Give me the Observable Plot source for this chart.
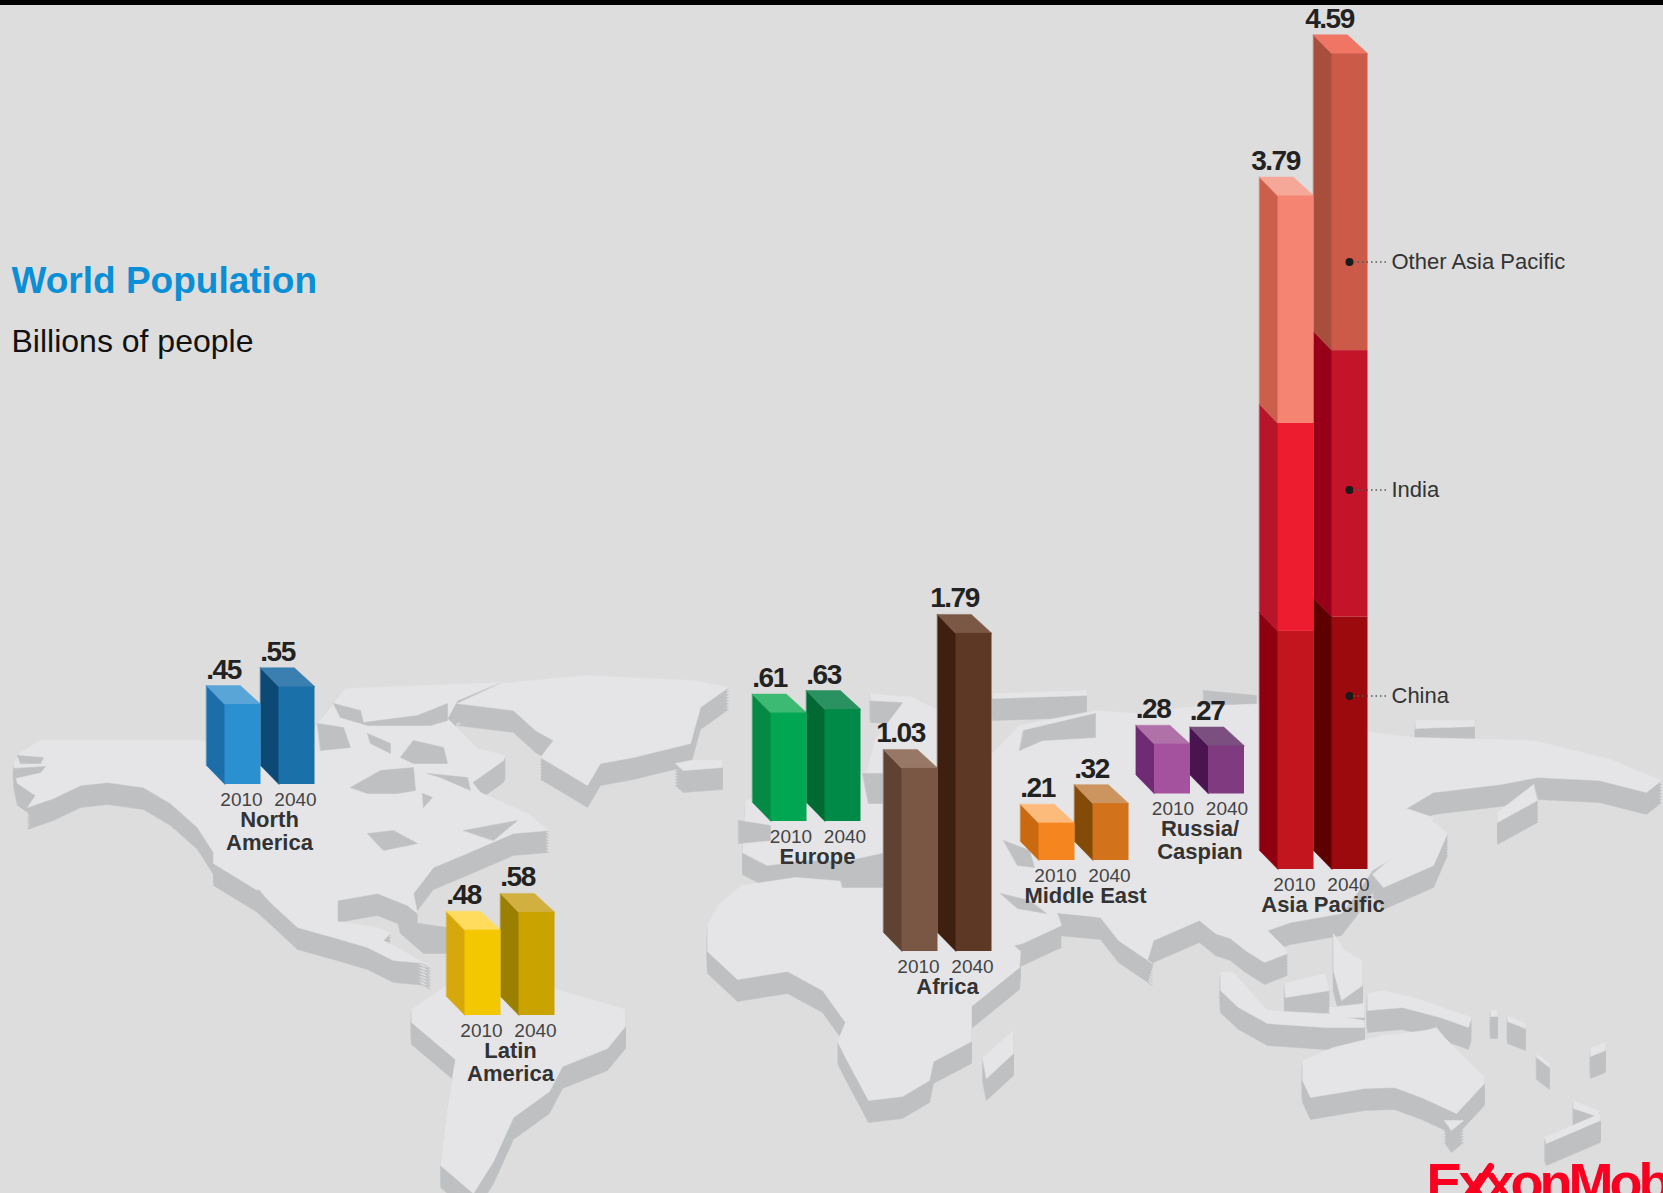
<!DOCTYPE html>
<html><head><meta charset="utf-8">
<script src="https://cdn.jsdelivr.net/npm/d3@7"></script>
<script src="https://cdn.jsdelivr.net/npm/@observablehq/plot@0.6"></script>
<style>html,body{margin:0;padding:0;background:#dddddd;overflow:hidden}svg{display:block}</style>
</head><body><div id="chart"></div>
<script>
// ---------- values (billions of people) ----------
const regions = ["North America","Latin America","Europe","Africa","Middle East","Russia/Caspian"];
const regionLabels = ["North\nAmerica","Latin\nAmerica","Europe","Africa","Middle East","Russia/\nCaspian","Asia Pacific"];
const years = [2010, 2040];
const pop2010 = [0.45,0.48,0.61,1.03,0.21,0.28];
const pop2040 = [0.55,0.58,0.63,1.79,0.32,0.27];
const asiaParts = ["China","India","Other Asia Pacific"];
const asia2010 = [1.34,1.17,1.28];
const asia2040 = [1.42,1.50,1.67];
const asiaTotals = [3.79,4.59];

// ---------- layout (picture pixels) ----------
const W = 1663, H = 1193, K = 177.7;
const regionLeft  = [206,446,752,883,1020,1135.5,1259];
const regionBase  = [784,1015,821,951,860,793.5,869];
const yearShift   = [0,0,3.5,0,0,2,0];
const labelCentre = [[269,830.5],[510,1062],[817,856],[947,986],[1085,895],[1199.5,840],[1322.5,904]];
const calloutY = {"Other Asia Pacific":261.5,"India":489.5,"China":695.5};
const PITCH = 54, SIDE = 18.5, FRONT = 36, DEPTH = 19;
const py = p => (H - p) / K;           // picture pixel -> y-scale value

// ---------- colours ----------
const pal = [
 [["#2b90d0","#1b6ea8","#5aa5d8"],["#1a70a8","#0c4a75","#3a7fb0"]],
 [["#f4c800","#d6a80c","#ffdc5e"],["#c9a400","#9a7f00","#d2b040"]],
 [["#00a651","#058a45","#3cba74"],["#008a47","#006934","#2a9160"]],
 [["#7a5744","#5f4232","#977866"],["#5c3825","#3f2010","#7a5845"]],
 [["#f5861f","#c96a10","#fcbb7a"],["#d2721a","#844a08","#cc9560"]],
 [["#a4529d","#6f2c74","#b070a8"],["#803a80","#4a1450","#7b5080"]]
];
const asiaPal = [
 [["#c3151e","#8e0010"],["#ed1c2e","#b8152a"],["#f58472","#cc5e4c"]],
 [["#9d0a0e","#5e0000"],["#c4142a","#98001a"],["#cb5a48","#a84e3c"]]
];
const asiaTop = ["#f5a898","#f07565"];
const LAND = "#e5e5e7", COAST = "#bfc0c2", LOGO = "#fa0020";

// ---------- backdrop land shapes ----------
const land = [
 // North America
 [[13,763],[20,752],[40,740],[200,740],[300,745],[345,688],[500,682],[457,700],[447,718],[477,748],[505,755],[503,760],[472,782],[480,792],[527,813],[548,830],[513,833],[457,857],[433,867],[413,893],[417,913],[407,905],[377,893],[337,900],[337,921],[377,927],[390,933],[383,940],[397,947],[430,967],[427,963],[393,960],[367,947],[333,937],[297,927],[257,890],[213,863],[213,852],[197,827],[170,803],[143,787],[107,782],[80,785],[53,798],[27,807],[35,795],[17,783]],
 // Greenland, Iceland
 [[457,703],[513,710],[535,730],[553,740],[540,757],[557,767],[587,785],[600,763],[633,757],[690,743],[700,707],[728,687],[693,680],[583,675],[500,683]],
 [[675,763],[690,760],[722,760],[722,767],[683,770]],
 // South America
 [[411,1009],[446,985],[556,989],[625,1009],[625,1026],[607,1048],[562,1066],[549,1091],[513,1117],[493,1161],[473,1193],[440,1165],[446,1113],[455,1059],[411,1022]],
 // Africa, Madagascar
 [[707,924],[718,904],[741,885],[795,877],[871,883],[985,920],[1020,951],[1019,967],[971,1006],[971,1041],[933,1061],[929,1080],[902,1096],[868,1100],[845,1057],[837,1041],[845,1022],[822,990],[787,971],[737,979],[707,951]],
 [[982,1057],[1013,1030],[1013,1053],[986,1078]],
 // Eurasia
 [[742,852],[745,800],[866,772],[874,740],[908,695],[937,710],[988,757],[1019,725],[1095,710],[1134,713],[1203,705],[1256,703],[1366,731],[1413,737],[1533,740],[1610,759],[1661,780],[1646,792],[1599,780],[1537,777],[1500,784],[1433,792],[1406,808],[1433,817],[1430,833],[1372,870],[1355,895],[1341,913],[1290,922],[1267,930],[1285,948],[1287,953],[1264,962],[1245,950],[1230,938],[1215,933],[1199,920],[1153,940],[1147,960],[1152,963],[1118,940],[1100,917],[1057,913],[1061,925],[1022,943],[993,950],[985,920],[871,883],[882,860],[805,860],[767,865]],
 // Kamchatka, Japan, Arctic islands
 [[1533,784],[1497,812],[1497,822],[1537,800]],
 [[1433,821],[1447,833],[1433,865],[1383,887],[1372,874]],
 [[1415,720],[1474,720],[1474,726],[1415,728]],
 [[992,693],[1086,690],[1086,695],[992,698]],
 [[870,693],[912,697],[908,702],[870,700]],
 // Indonesia, New Guinea, Pacific
 [[1220,972],[1233,972],[1267,1010],[1321,1013],[1364,1020],[1364,1027],[1325,1027],[1267,1023],[1238,1007],[1220,990]],
 [[1284,983],[1325,973],[1329,990],[1285,997]],
 [[1333,933],[1344,950],[1362,960],[1362,985],[1341,1000],[1333,970]],
 [[1329,1007],[1364,1003],[1364,1017],[1329,1017]],
 [[1367,993],[1382,990],[1413,997],[1471,1017],[1468,1027],[1440,1017],[1402,1007],[1367,1010]],
 [[1490,1010],[1497,1010],[1497,1016],[1490,1016]],
 [[1507,1015],[1525,1023],[1525,1028],[1507,1021]],
 [[1536,1053],[1549,1063],[1549,1067],[1536,1057]],
 [[1590,1048],[1605,1042],[1605,1050],[1590,1056]],
 // Australia, Tasmania, New Zealand
 [[1302,1060],[1333,1047],[1382,1035],[1425,1030],[1436,1027],[1444,1037],[1484,1077],[1484,1083],[1456,1113],[1421,1097],[1394,1087],[1364,1088],[1310,1097],[1302,1080]],
 [[1444,1120],[1463,1120],[1451,1130]],
 [[1573,1100],[1599,1111],[1597,1116],[1573,1108]],
 [[1544,1137],[1600,1113],[1600,1120],[1546,1143]]
];
// inland seas, channels and bays shown in the coast colour
const water = [
 [[333,703],[360,710],[363,722],[417,715],[447,703],[447,720],[430,725],[367,725],[340,717]],
 [[317,723],[343,727],[350,747],[320,750]],
 [[367,733],[390,743],[390,753],[370,743]],
 [[413,740],[443,747],[447,763],[413,763],[400,757]],
 [[350,787],[380,770],[413,767],[415,790],[397,793],[367,793]],
 [[427,773],[467,777],[470,790],[440,777]],
 [[422,793],[432,797],[423,807]],
 [[367,833],[393,830],[417,843],[383,850]],
 [[463,830],[517,820],[493,840]],
 [[397,920],[447,927],[447,953],[423,953],[400,933]],
 [[17,755],[43,757],[40,763],[20,763]],
 [[13,768],[45,766],[40,772],[13,778]],
 [[258,889],[280,915],[275,915],[255,892]],
 [[1023,730],[1095,713],[1095,737],[1042,740],[1019,750]],
 [[1203,690],[1256,695],[1256,703],[1203,705]],
 [[862,773],[882,773],[882,803],[868,803]],
 [[738,820],[770,825],[770,840],[738,843]],
 [[836,863],[882,853],[882,887],[842,887]],
 [[1003,840],[1029,850],[1034,867],[1017,865]],
 [[1000,893],[1029,900],[1046,913],[1017,908]],
 [[1057,913],[1095,917],[1095,937],[1072,930]]
];
const landPts = [];
land.forEach((poly, i) => {
  [22,19,16,13,10,7,4,1].forEach(off => poly.forEach(([x,y]) => landPts.push({k:`s${i}-${off}`, x, y:py(y+off), c:COAST})));
});
land.forEach((poly, i) => poly.forEach(([x,y]) => landPts.push({k:`t${i}`, x, y:py(y), c:LAND})));
water.forEach((poly, i) => poly.forEach(([x,y]) => landPts.push({k:`w${i}`, x, y:py(y), c:COAST})));

// ---------- build bar faces ----------
const fronts = [], polys = [];
function sideFace(id, l, yLo, yHi, c){
  const f = l + SIDE, d = DEPTH / K;
  [[l,yHi+d],[f,yHi],[f,yLo],[l,yLo+d]].forEach(([x,y]) => polys.push({k:id, x, y, c}));
}
function topFace(id, l, yTop, c){
  const f = l + SIDE, d = DEPTH / K;
  [[l,yTop+d],[l+FRONT*0.94,yTop+d],[f+FRONT,yTop],[f,yTop]].forEach(([x,y]) => polys.push({k:id, x, y, c}));
}
const valueLabels = [], yearLabels = [];
regions.forEach((r,i) => {
  const base = py(regionBase[i]);
  [pop2010[i],pop2040[i]].forEach((v,j) => {
    const l = regionLeft[i] + j*PITCH, [cf,cs,ct] = pal[i][j];
    sideFace(`${r}${j}s`, l, base, base+v, cs);
    topFace(`${r}${j}t`, l, base+v, ct);
    fronts.push({x1:l+SIDE, x2:l+SIDE+FRONT, y1:base, y2:base+v, c:cf});
    valueLabels.push({x:l+17, y:base+v+(DEPTH+16)/K, t:d3.format(".2f")(v).replace(/^0/,"")});
    yearLabels.push({x:l+35+yearShift[i], y:base-15/K, t:String(years[j])});
  });
});
[asia2010,asia2040].forEach((parts,j) => {
  const base = py(regionBase[6]), l = regionLeft[6] + j*PITCH;
  let acc = 0;
  parts.forEach((v,p) => {
    const [cf,cs] = asiaPal[j][p];
    sideFace(`a${j}${p}`, l, base+acc, base+acc+v, cs);
    fronts.push({x1:l+SIDE, x2:l+SIDE+FRONT, y1:base+acc, y2:base+acc+v, c:cf});
    acc += v;
  });
  topFace(`a${j}t`, l, base+acc, asiaTop[j]);
  valueLabels.push({x:l+16, y:base+asiaTotals[j]+(DEPTH+16)/K, t:asiaTotals[j].toFixed(2)});
  yearLabels.push({x:l+35, y:base-15/K, t:String(years[j])});
});

const callouts = asiaParts.map(p => ({name:p, y:py(calloutY[p])}));
const FONT = "Liberation Sans, Arial, sans-serif";
const polyMark = data => Plot.line(data,{x:"x",y:"y",z:"k",fill:"c",stroke:"c",strokeWidth:0.5,curve:"linear-closed"});

const chart = Plot.plot({
  width:W, height:H, margin:0,
  x:{domain:[0,W],range:[0,W],axis:null},
  y:{domain:[0,H/K],range:[H,0],axis:null},
  color:{type:"identity"},
  style:{background:"#dddddd",fontFamily:FONT},
  marks:[
    Plot.rect([0],{x1:0,x2:W,y1:py(0),y2:py(5),fill:"#000"}),
    polyMark(landPts),
    polyMark(polys),
    Plot.rect(fronts,{x1:"x1",x2:"x2",y1:"y1",y2:"y2",fill:"c"}),
    Plot.text(valueLabels,{x:"x",y:"y",text:"t",fontSize:28,fontWeight:"bold",fill:"#222",fontFamily:FONT}),
    Plot.text(yearLabels,{x:"x",y:"y",text:"t",fontSize:19,fill:"#444",fontFamily:FONT}),
    Plot.text(regionLabels,{x:(d,i)=>labelCentre[i][0],y:(d,i)=>py(labelCentre[i][1]),text:d=>d,lineHeight:1.03,fontSize:22,fontWeight:"bold",fill:"#333",fontFamily:FONT}),
    Plot.dot(callouts,{x:()=>1349,y:"y",r:4,fill:"#1a1a1a"}),
    Plot.ruleY(callouts,{x1:()=>1353,x2:()=>1386,y:"y",stroke:"#555",strokeWidth:1.5,strokeDasharray:"1.5 3"}),
    Plot.text(callouts,{x:()=>1391,y:"y",text:"name",textAnchor:"start",fontSize:22,fill:"#333",fontFamily:FONT}),
    Plot.text(["World Population"],{x:()=>11,y:()=>py(281),text:d=>d,textAnchor:"start",fontSize:37,fontWeight:"bold",fill:"#0a8fd6",fontFamily:FONT}),
    Plot.text(["Billions of people"],{x:()=>11,y:()=>py(341),text:d=>d,textAnchor:"start",fontSize:32,fill:"#111",fontFamily:FONT}),
    Plot.line([[1472,1193],[1490,1166]],{x:d=>d[0],y:d=>py(d[1]),stroke:LOGO,strokeWidth:7}),
    Plot.text(["ExxonMobil"],{x:()=>1426,y:()=>py(1183),text:d=>d,textAnchor:"start",fontSize:54,fontWeight:"bold",fill:LOGO,fontFamily:FONT})
  ]
});
// condensed lettering of the value labels and the logo
chart.querySelectorAll("text").forEach(el => {
  if (el.textContent === "ExxonMobil") el.style.letterSpacing = "-4px";
  else if (el.getAttribute("font-size") === "28" || el.parentNode.getAttribute("font-size") === "28") el.style.letterSpacing = "-1.5px";
});
document.getElementById("chart").append(chart);
</script></body></html>
